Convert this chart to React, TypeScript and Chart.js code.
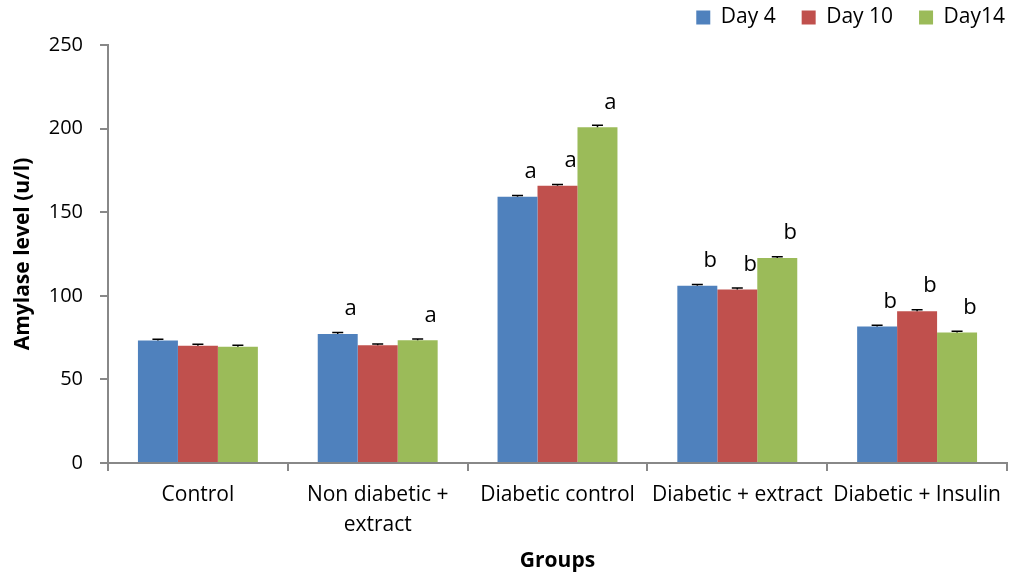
import React, { useEffect, useRef } from "react";
import { Chart, registerables } from "chart.js";

Chart.register(...registerables);

const categories: (string | string[])[] = [
  "Control",
  ["Non diabetic +", "extract"],
  "Diabetic control",
  "Diabetic + extract",
  "Diabetic + Insulin",
];
const seriesNames = ["Day 4", "Day 10", "Day14"];
const day4 = [73.2, 77.2, 159.2, 106.0, 81.6];
const day10 = [70.2, 70.4, 165.8, 103.8, 90.8];
const day14 = [69.6, 73.4, 200.8, 122.6, 78.0];
const err4 = [0.8, 0.8, 0.8, 0.8, 0.8];
const err10 = [0.8, 0.8, 0.8, 0.8, 0.8];
const err14 = [0.8, 0.8, 1.2, 0.8, 0.8];
const letters4 = ["", "a", "a", "b", "b"];
const letters10 = ["", "", "a", "b", "b"];
const letters14 = ["", "a", "a", "b", "b"];
const yTicks = [0, 50, 100, 150, 200, 250];

const colors = ["#4F81BD", "#C0504D", "#9BBB59"];
const FONT = "'Open Sans', 'Liberation Sans', sans-serif";
const LEGEND_PAD = 26;
const LAYOUT_TOP = -19;

const errorsAll = [err4, err10, err14];
const lettersAll = [letters4, letters10, letters14];

const annotPlugin = {
  id: "annot",
  afterDatasetsDraw(chart: any) {
    const ctx = chart.ctx;
    const yScale = chart.scales.y;
    chart.data.datasets.forEach((ds: any, di: number) => {
      const meta = chart.getDatasetMeta(di);
      meta.data.forEach((bar: any, i: number) => {
        const v = ds.data[i];
        const e = errorsAll[di][i];
        const x = bar.x;
        const y0 = yScale.getPixelForValue(v);
        const y1 = yScale.getPixelForValue(v + e);
        ctx.save();
        ctx.strokeStyle = "#000";
        ctx.lineWidth = 1.5;
        ctx.beginPath();
        ctx.moveTo(x, y0);
        ctx.lineTo(x, y1);
        ctx.moveTo(x - 5.5, y1);
        ctx.lineTo(x + 5.5, y1);
        ctx.stroke();
        const t = lettersAll[di][i];
        if (t) {
          ctx.fillStyle = "#000";
          ctx.font = `22px ${FONT}`;
          ctx.textAlign = "center";
          ctx.textBaseline = "middle";
          ctx.fillText(t, x + 13, y0 - 25);
        }
        ctx.restore();
      });
    });
  },
};

const legendSpacer = {
  id: "legendSpacer",
  beforeInit(chart: any) {
    const legend = chart.legend;
    if (!legend) return;
    const origFit = legend.fit;
    legend.fit = function () {
      origFit.call(this);
      this.height = 45 - LAYOUT_TOP;
    };
  },
  afterLayout(chart: any) {
    if (chart.legend) chart.legend.right += LEGEND_PAD - 2;
  },
};

export default function App() {
  const ref = useRef<HTMLCanvasElement | null>(null);
  useEffect(() => {
    document.body.style.margin = "0";
    const canvas = ref.current!;
    const chart = new Chart(canvas, {
      type: "bar",
      data: {
        labels: categories,
        datasets: [day4, day10, day14].map((d, i) => ({
          label: seriesNames[i],
          data: d,
          backgroundColor: colors[i],
          categoryPercentage: 0.667,
          barPercentage: 1,
        })),
      },
      options: {
        animation: false,
        responsive: false,
        maintainAspectRatio: false,
        layout: { padding: { top: LAYOUT_TOP, right: 4, bottom: 0, left: 0 } },
        plugins: {
          tooltip: { enabled: false },
          legend: {
            position: "top",
            align: "end",
            labels: {
              boxWidth: 14,
              boxHeight: 14,
              padding: LEGEND_PAD,
              color: "#000",
              font: { family: FONT, size: 21 },
            },
          },
        },
        scales: {
          x: {
            afterFit: (axis: any) => {
              axis.height = 112;
            },
            grid: {
              drawOnChartArea: false,
              offset: true,
              tickLength: 8,
              color: "#888",
              lineWidth: 2,
            },
            border: { color: "#888", width: 2 },
            ticks: {
              color: "#000",
              font: { family: FONT, size: 21, lineHeight: 1.43 },
              padding: 9,
              maxRotation: 0,
              autoSkip: false,
            },
            title: {
              display: true,
              text: "Groups",
              color: "#000",
              font: { family: FONT, size: 21, weight: "bold" },
              padding: { top: 10, bottom: 1 },
            },
          },
          y: {
            min: 0,
            max: 250,
            afterFit: (axis: any) => {
              axis.width = 108;
            },
            afterBuildTicks: (axis: any) => {
              axis.ticks = yTicks.map((v) => ({ value: v }));
            },
            grid: {
              drawOnChartArea: false,
              tickLength: 8,
              color: "#888",
              lineWidth: 2,
            },
            border: { color: "#888", width: 2 },
            ticks: {
              color: "#000",
              font: { family: FONT, size: 20 },
              padding: 17,
            },
            title: {
              display: true,
              text: "Amylase level (u/l)",
              color: "#000",
              font: { family: FONT, size: 21, weight: "bold" },
              padding: { top: 10, bottom: 4 },
            },
          },
        },
      },
      plugins: [annotPlugin, legendSpacer],
    });
    return () => chart.destroy();
  }, []);
  return (
    <div style={{ width: 1011, height: 575 }}>
      <canvas ref={ref} width={1011} height={575} style={{ display: "block" }} />
    </div>
  );
}
